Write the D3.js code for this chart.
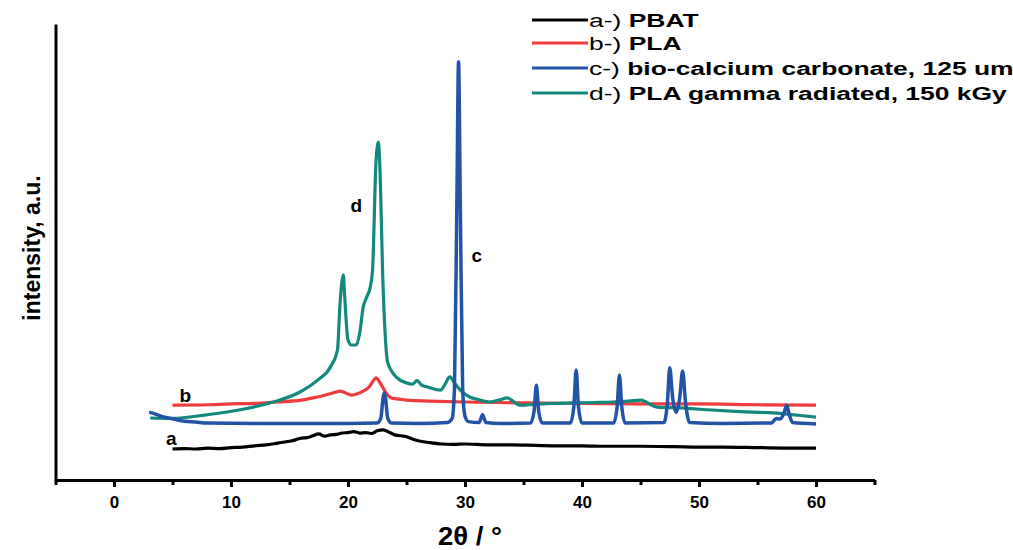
<!DOCTYPE html>
<html><head><meta charset="utf-8">
<script src="https://cdn.jsdelivr.net/npm/d3@7"></script>
<style>body{margin:0;background:#fff}svg{display:block}text{font-family:"Liberation Sans",Arial,sans-serif}</style>
</head><body>
<svg id="c" width="1013" height="550"></svg>
<script>
// ---- data (2θ in degrees, intensity in arbitrary units) ----
const pbat = [[5,6.8],[6,6.9],[7,6.8],[8,7.0],[9,6.9],[10,7.1],[11,7.2],[12,7.5],[13,7.7],[14,8.1],[15,8.5],[15.5,8.8],[16,9.2],[16.5,9.3],[17,9.7],[17.5,10.1],[18,9.6],[18.5,9.9],[19,10.0],[19.5,10.3],[20,10.4],[20.5,10.6],[21,10.3],[21.5,10.4],[22,10.2],[22.5,10.8],[23,11.0],[23.5,10.5],[24,9.9],[24.5,9.7],[25,9.5],[25.5,9.0],[26,8.6],[27,8.2],[28,7.9],[29,7.8],[30,7.9],[32,7.7],[34,7.7],[36,7.6],[38,7.5],[40,7.5],[42,7.4],[45,7.4],[48,7.3],[50,7.2],[52,7.2],[55,7.1],[58,7.0],[60,7.0]];
const pla = [[5,16.4],[8,16.5],[10,16.7],[12,16.8],[14,17.1],[16,17.5],[17,18.0],[18,18.6],[19,19.3],[19.3,19.5],[19.8,19.1],[20.3,18.6],[20.8,18.9],[21.3,19.5],[21.8,20.4],[22.2,21.9],[22.4,22.4],[22.7,21.5],[23,20.2],[23.3,18.9],[23.7,18.0],[24.2,17.8],[25,17.5],[27,17.3],[30,17.1],[35,16.9],[40,16.8],[45,16.7],[50,16.7],[55,16.5],[60,16.4]];
const caco3 = [[3,14.9],[3.5,14.5],[4,14.0],[5,13.4],[6,12.9],[7,12.7],[8,12.5],[12,12.4],[16,12.4],[20,12.4],[22.5,12.5],[22.8,13.5],[23.0,18.0],[23.1,19.1],[23.2,18.0],[23.4,13.5],[23.7,12.5],[26,12.4],[28.5,12.6],[28.9,13.5],[29.1,20],[29.3,60],[29.45,91.7],[29.6,60],[29.8,20],[30.0,14],[30.3,12.8],[31.2,12.6],[31.5,14.3],[31.8,12.6],[33,12.4],[35.6,12.5],[35.9,15],[36.1,20.8],[36.3,15],[36.6,12.5],[39.0,12.5],[39.3,16],[39.5,24.1],[39.7,16],[40.0,12.5],[42.7,12.5],[43.0,16],[43.2,23.0],[43.4,16],[43.7,12.5],[47.0,12.6],[47.3,17],[47.5,24.6],[47.75,18],[48.05,14.9],[48.35,18],[48.6,23.9],[48.85,17],[49.2,12.6],[52,12.4],[56.2,12.5],[56.6,13.5],[56.95,13.4],[57.3,15.0],[57.5,16.4],[57.7,14.5],[58.0,12.6],[60,12.3]];
const plaGamma = [[3.1,13.6],[5,13.5],[7.9,14.3],[10.8,15.4],[13.6,17.1],[15.9,19.3],[17.4,21.9],[18.5,24.8],[19.1,28.5],[19.3,37.9],[19.6,45.0],[19.7,41.0],[20.0,30.7],[20.3,29.6],[20.7,29.6],[21.0,32.2],[21.3,37.9],[21.6,40.1],[21.9,42.3],[22.1,46.1],[22.4,70.2],[22.6,74.1],[22.7,70.2],[23.0,42.3],[23.4,25.7],[24.2,22.4],[25.0,21.3],[25.5,21.0],[25.9,21.8],[26.3,20.8],[26.8,20.4],[27.9,19.7],[28.3,21.0],[28.7,22.6],[29.1,21.3],[29.6,19.7],[30.4,18.2],[31.2,17.6],[32.1,17.1],[33.0,17.6],[33.6,18.0],[34.7,16.4],[36,16.6],[37.5,16.8],[39.2,16.9],[41,17.0],[42.6,17.1],[44,17.3],[45.0,17.5],[46.4,16.0],[48.5,15.8],[50.7,15.4],[53.5,15.0],[56.3,14.7],[58.5,14.2],[60,13.8]];

const seriesNames = ["a-) PBAT","b-) PLA","c-) bio-calcium carbonate, 125 um","d-) PLA gamma radiated, 150 kGy"];
const seriesColors = ["#000000","#ee3b3b","#2353a6","#12897c"];
const curveLabels = [["a",4.9,7.7],["b",6.1,17.0],["c",31.0,47.8],["d",20.7,58.8]];
const xTicks = [0,10,20,30,40,50,60];
const xMinor = [-5,5,15,25,35,45,55,65];

// ---- layout ----
const svg = d3.select("#c");
const x = d3.scaleLinear().domain([-5,65]).range([55.5,874.5]);
const y = d3.scaleLinear().domain([0,100]).range([480,24]);

const line = d3.line().x(d=>x(d[0])).y(d=>y(d[1])).curve(d3.curveMonotoneX);
const all = [pbat, pla, caco3, plaGamma];
const order = [0,1,3,2];
order.forEach(i=>{
  svg.append("path").datum(all[i]).attr("d",line)
    .attr("fill","none").attr("stroke",seriesColors[i])
    .attr("stroke-width", i===2?3.5:3.2).attr("stroke-linejoin","round");
});

// axes
const xAxis = d3.axisBottom(x).tickValues(xTicks).tickSize(7).tickSizeOuter(0).tickPadding(9);
const gx = svg.append("g").attr("transform","translate(0,480)").call(xAxis);
gx.select(".domain").attr("stroke-width",3);
gx.selectAll(".tick line").attr("stroke-width",3);
gx.selectAll(".tick text").attr("font-size",17).attr("font-weight","bold").attr("fill","#000");
const xAxisMinor = d3.axisBottom(x).tickValues(xMinor).tickSize(5).tickSizeOuter(0).tickFormat("");
const gm = svg.append("g").attr("transform","translate(0,480)").call(xAxisMinor);
gm.select(".domain").remove();
gm.selectAll(".tick line").attr("stroke-width",3);

const yAxis = d3.axisLeft(y).tickValues([]).tickSizeOuter(0);
const gy = svg.append("g").attr("transform","translate(55.5,0)").call(yAxis);
gy.select(".domain").attr("stroke-width",3);

svg.append("text").attr("transform","translate(470,545) scale(1.1,1)").attr("text-anchor","middle")
  .attr("font-size",25).attr("font-weight","bold").text("2θ / °");
svg.append("text").attr("transform","translate(40,248) rotate(-90)").attr("text-anchor","middle")
  .attr("font-size",23).attr("font-weight","bold").text("intensity, a.u.");

// curve letters
curveLabels.forEach(l=>{
  svg.append("text").attr("x",x(l[1])).attr("y",y(l[2])).attr("text-anchor","middle")
    .attr("font-size",19).attr("font-weight","bold").text(l[0]);
});

// legend
const rowsY = [20,43,68,93];
seriesNames.forEach((n,i)=>{
  const g = svg.append("g").attr("transform",`translate(532,${rowsY[i]})`);
  g.append("line").attr("x1",0).attr("x2",56).attr("stroke",seriesColors[i]).attr("stroke-width",3);
  const t = g.append("text").attr("transform","translate(57,6.5) scale(1.47,1)").attr("font-size",18);
  const parts = n.split(") ");
  t.append("tspan").text(parts[0]+") ");
  t.append("tspan").attr("font-weight","bold").text(parts[1]);
});
</script>
</body></html>
